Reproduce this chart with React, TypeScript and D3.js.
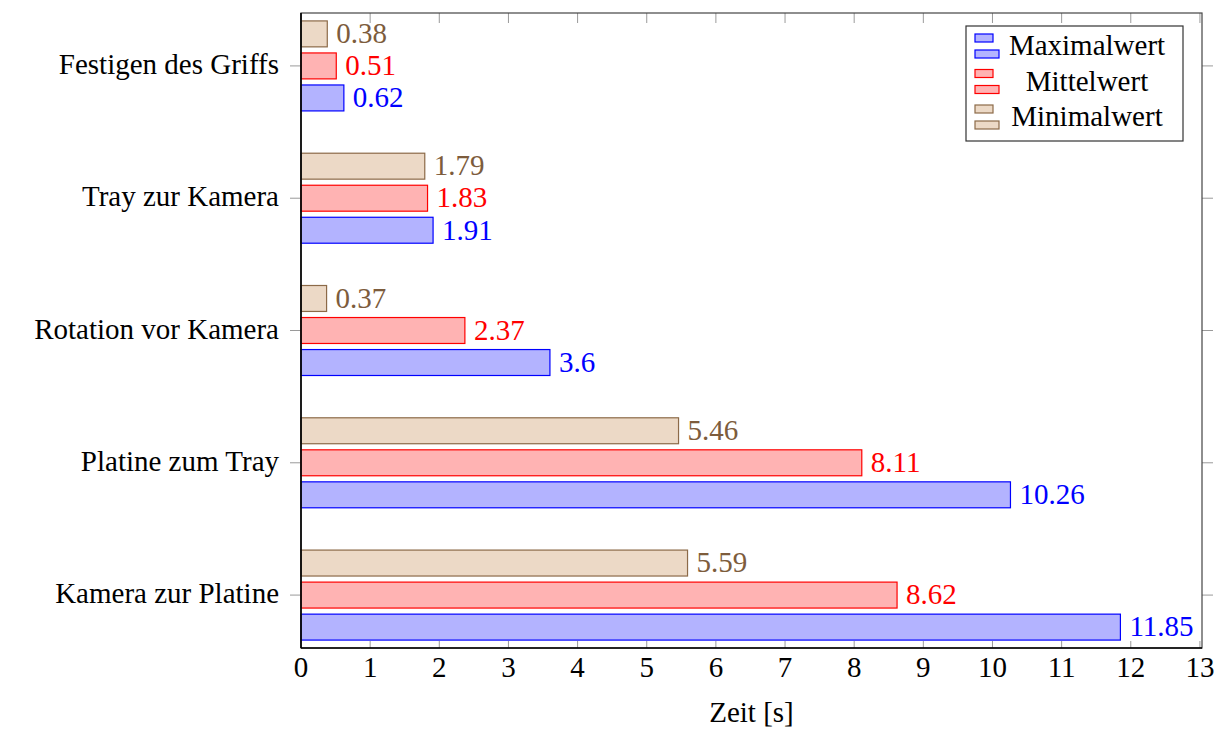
import * as d3 from "d3";
import { useEffect, useRef } from "react";

const categories = [
  "Festigen des Griffs",
  "Tray zur Kamera",
  "Rotation vor Kamera",
  "Platine zum Tray",
  "Kamera zur Platine",
];
const minValues = [0.38, 1.79, 0.37, 5.46, 5.59];
const meanValues = [0.51, 1.83, 2.37, 8.11, 8.62];
const maxValues = [0.62, 1.91, 3.6, 10.26, 11.85];
const xTicks = [0, 1, 2, 3, 4, 5, 6, 7, 8, 9, 10, 11, 12, 13];
const xLabel = "Zeit [s]";

interface Series {
  key: string;
  label: string;
  values: number[];
  fill: string;
  stroke: string;
  text: string;
}

// drawing order inside a group: top to bottom
const series: Series[] = [
  { key: "min", label: "Minimalwert", values: minValues, fill: "#ecd9c6", stroke: "#8c6a48", text: "#7d5c3c" },
  { key: "mean", label: "Mittelwert", values: meanValues, fill: "#ffb3b3", stroke: "#ff0000", text: "#ff0000" },
  { key: "max", label: "Maximalwert", values: maxValues, fill: "#b3b3ff", stroke: "#0000ff", text: "#0000ff" },
];
const legendOrder = ["max", "mean", "min"];

const App = () => {
  const svgRef = useRef<SVGSVGElement | null>(null);
  const w = 1229;
  const h = 729;
  const m = { top: 13, right: 27, bottom: 81, left: 301 };
  const font = "'Liberation Serif', 'Times New Roman', serif";
  const fs = 29;

  useEffect(() => {
    if (!svgRef.current) return;
    const svg = d3.select(svgRef.current);
    svg.selectAll("*").remove();

    const x0 = m.left;
    const x1 = w - m.right;
    const y0 = m.top;
    const y1 = h - m.bottom;

    const x = d3.scaleLinear().domain([0, 13.03]).range([x0, x1]);
    const y = d3.scalePoint<string>().domain(categories).range([y0, y1]).padding(0.4);
    const inner = d3
      .scaleBand<string>()
      .domain(series.map((s) => s.key))
      .range([-45, 45])
      .paddingInner(0.19)
      .paddingOuter(0);

    // ticks
    const tickColor = "#9a9a9a";
    const g = svg.append("g");
    g.selectAll("line.xb")
      .data(xTicks)
      .enter()
      .append("line")
      .attr("x1", (d) => x(d))
      .attr("x2", (d) => x(d))
      .attr("y1", y1)
      .attr("y2", y1 - 7)
      .attr("stroke", tickColor);
    g.selectAll("line.xt")
      .data(xTicks)
      .enter()
      .append("line")
      .attr("x1", (d) => x(d))
      .attr("x2", (d) => x(d))
      .attr("y1", y0)
      .attr("y2", y0 + 10)
      .attr("stroke", tickColor);
    g.selectAll("line.yl")
      .data(categories)
      .enter()
      .append("line")
      .attr("x1", x0 - 11)
      .attr("x2", x0)
      .attr("y1", (d) => y(d)!)
      .attr("y2", (d) => y(d)!)
      .attr("stroke", tickColor);
    g.selectAll("line.yr")
      .data(categories)
      .enter()
      .append("line")
      .attr("x1", x1)
      .attr("x2", x1 + 11)
      .attr("y1", (d) => y(d)!)
      .attr("y2", (d) => y(d)!)
      .attr("stroke", tickColor);

    // bars
    series.forEach((s) => {
      const sg = svg.append("g");
      sg.selectAll("rect")
        .data(categories)
        .enter()
        .append("rect")
        .attr("x", x(0))
        .attr("y", (d) => y(d)! + inner(s.key)!)
        .attr("width", (_, i) => x(s.values[i]) - x(0))
        .attr("height", inner.bandwidth())
        .attr("fill", s.fill)
        .attr("stroke", s.stroke)
        .attr("stroke-width", 1.2);
      sg.selectAll("text")
        .data(categories)
        .enter()
        .append("text")
        .attr("x", (_, i) => x(s.values[i]) + 9)
        .attr("y", (d) => y(d)! + inner(s.key)! + inner.bandwidth() / 2)
        .attr("dy", "0.32em")
        .attr("fill", s.text)
        .attr("font-family", font)
        .attr("font-size", fs)
        .text((_, i) => String(s.values[i]));
    });

    // frame
    svg.append("rect")
      .attr("x", x0)
      .attr("y", y0)
      .attr("width", x1 - x0)
      .attr("height", y1 - y0)
      .attr("fill", "none")
      .attr("stroke", "#444")
      .attr("stroke-width", 1.2);
    svg.append("line")
      .attr("x1", x0).attr("x2", x0).attr("y1", y0).attr("y2", y1)
      .attr("stroke", "#000").attr("stroke-width", 1.6);
    svg.append("line")
      .attr("x1", x0).attr("x2", x1).attr("y1", y1).attr("y2", y1)
      .attr("stroke", "#000").attr("stroke-width", 1.6);

    // tick labels
    svg.append("g")
      .selectAll("text")
      .data(xTicks)
      .enter()
      .append("text")
      .attr("x", (d) => x(d))
      .attr("y", y1 + 29)
      .attr("text-anchor", "middle")
      .attr("font-family", font)
      .attr("font-size", fs)
      .text((d) => String(d));
    svg.append("g")
      .selectAll("text")
      .data(categories)
      .enter()
      .append("text")
      .attr("x", x0 - 22)
      .attr("y", (d) => y(d)!)
      .attr("dy", "0.28em")
      .attr("text-anchor", "end")
      .attr("font-family", font)
      .attr("font-size", fs)
      .text((d) => d);
    svg.append("text")
      .attr("x", (x0 + x1) / 2)
      .attr("y", y1 + 74)
      .attr("text-anchor", "middle")
      .attr("font-family", font)
      .attr("font-size", fs)
      .text(xLabel);

    // legend
    const lx = 966;
    const ly = 26;
    const lw = 217;
    const lh = 115;
    const lg = svg.append("g");
    lg.append("rect")
      .attr("x", lx)
      .attr("y", ly)
      .attr("width", lw)
      .attr("height", lh)
      .attr("fill", "#fff")
      .attr("stroke", "#333")
      .attr("stroke-width", 1.2);
    legendOrder.forEach((k, i) => {
      const s = series.find((d) => d.key === k)!;
      const cy = ly + 20 + i * 35.5;
      lg.append("rect")
        .attr("x", lx + 9).attr("y", cy - 12).attr("width", 18).attr("height", 8)
        .attr("fill", s.fill).attr("stroke", s.stroke).attr("stroke-width", 1.2);
      lg.append("rect")
        .attr("x", lx + 9).attr("y", cy + 4).attr("width", 24).attr("height", 8)
        .attr("fill", s.fill).attr("stroke", s.stroke).attr("stroke-width", 1.2);
      lg.append("text")
        .attr("x", lx + 121)
        .attr("y", cy + 9)
        .attr("text-anchor", "middle")
        .attr("font-family", font)
        .attr("font-size", fs)
        .text(s.label);
    });
  }, []);

  return (
    <svg
      ref={svgRef}
      width={w}
      height={h}
      style={{ position: "absolute", left: 0, top: 0, background: "#fff" }}
    ></svg>
  );
};

export default App;
